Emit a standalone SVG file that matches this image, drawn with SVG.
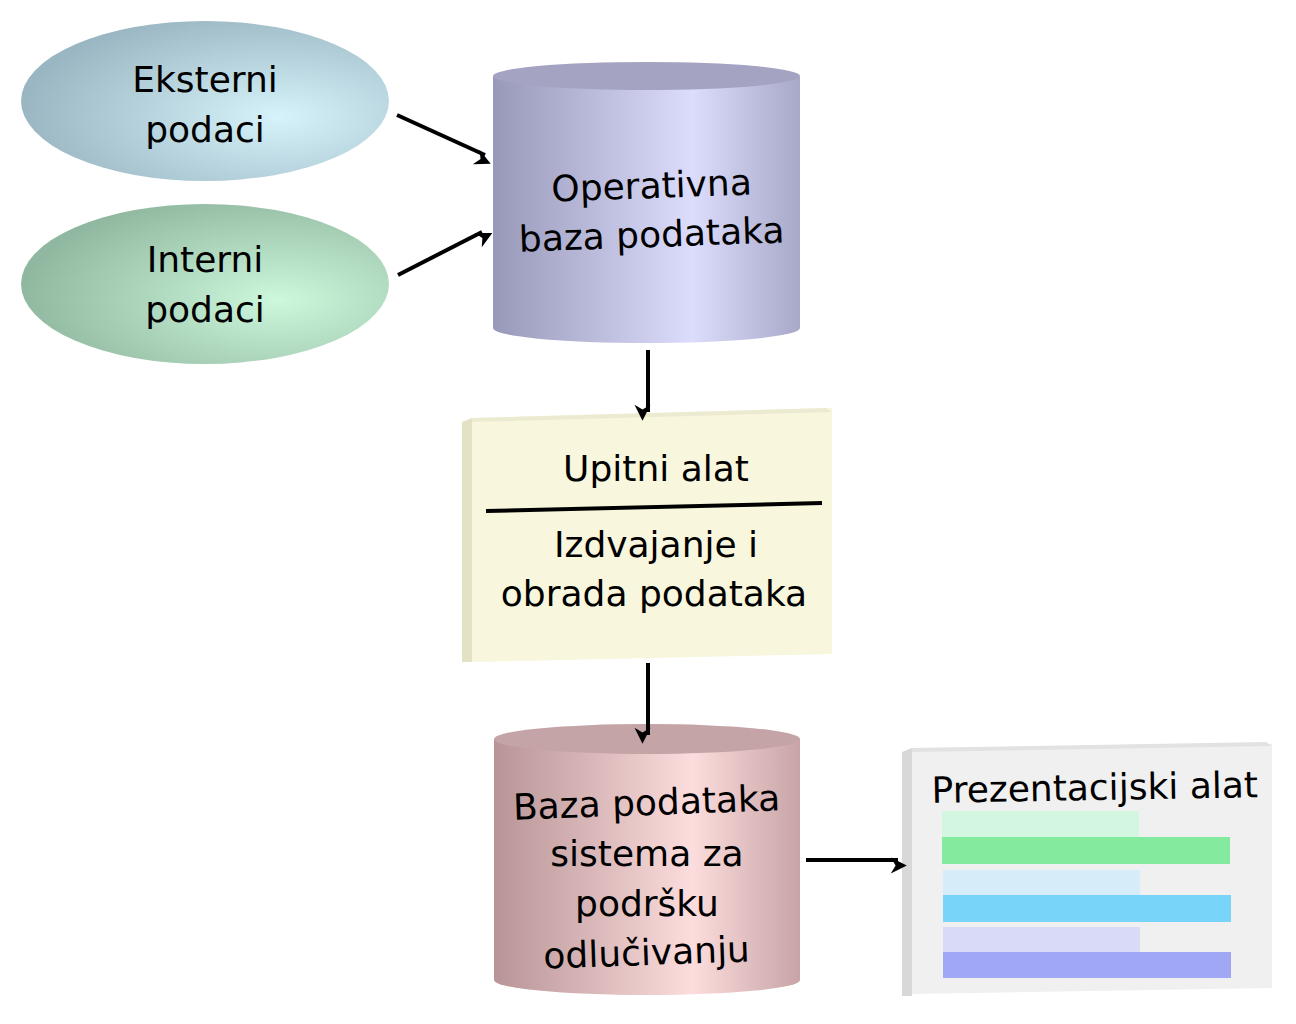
<svg xmlns="http://www.w3.org/2000/svg" width="1296" height="1024" viewBox="0 0 1296 1024">
<style>
text{font-family:"DejaVu Sans","Verdana",sans-serif;font-size:36px;fill:#000;text-anchor:middle}
.c{stroke:#000;stroke-width:4;fill:none;marker-end:url(#ah)}
</style>
<defs>
<marker id="ah" viewBox="0 0 10 10" refX="8" refY="5" markerWidth="5" markerHeight="5" orient="auto" markerUnits="userSpaceOnUse" style="overflow:visible"><path d="M0,0L10,5L0,10L3,5z" fill="#000" transform="scale(3.2) translate(-2,-0)"/></marker>
<radialGradient id="gE" cx="0.7" cy="0.6" r="0.7"><stop offset="0" stop-color="#d6f2fa"/><stop offset="1" stop-color="#9ab6c2"/></radialGradient>
<radialGradient id="gI" cx="0.7" cy="0.6" r="0.7"><stop offset="0" stop-color="#cdf8dc"/><stop offset="1" stop-color="#90b8a0"/></radialGradient>
<linearGradient id="gO" x1="0" x2="1"><stop offset="0" stop-color="#9899b8"/><stop offset="0.65" stop-color="#dcdcfc"/><stop offset="1" stop-color="#a8a8c8"/></linearGradient>
<linearGradient id="gB" x1="0" x2="1"><stop offset="0" stop-color="#b89496"/><stop offset="0.65" stop-color="#fcdcdc"/><stop offset="1" stop-color="#c8a4a6"/></linearGradient>
</defs>
<g id="eksterni"><ellipse cx="205" cy="101" rx="184" ry="80" fill="url(#gE)"/><text x="205" y="92">Eksterni</text><text x="205" y="142">podaci</text></g>
<g id="interni"><ellipse cx="205" cy="284" rx="184" ry="80" fill="url(#gI)"/><text x="205" y="272">Interni</text><text x="205" y="322">podaci</text></g>
<g id="operativna"><path d="M493,76 L493,328 A153,15 0 0 0 800,328 L800,76 Z" fill="url(#gO)"/><ellipse cx="646.5" cy="76" rx="153.5" ry="14" fill="#a4a4c2"/><text x="652" y="198" transform="rotate(-2 652 198)">Operativna</text><text x="652" y="247" transform="rotate(-2 652 247)">baza podataka</text></g>
<g id="upitni"><polygon points="462,422 472,418 472,662 462,662" fill="#e4e2c4"/><polygon points="472,418 832,408 832,654 472,662" fill="#f8f6dc"/><polygon points="472,418 826,408 832,412 472,422" fill="#ecebd2"/><line x1="486" y1="511" x2="822" y2="503" stroke="#000" stroke-width="4"/><text x="656" y="481">Upitni alat</text><text x="656" y="557">Izdvajanje i</text><text x="654" y="606">obrada podataka</text></g>
<g id="baza"><path d="M494,739 L494,980 A153,15 0 0 0 800,980 L800,739 Z" fill="url(#gB)"/><ellipse cx="647" cy="739" rx="153" ry="15" fill="#c4a4a6"/><text x="647" y="815" transform="rotate(-2 647 815)">Baza podataka</text><text x="647" y="866">sistema za</text><text x="647" y="916">podršku</text><text x="647" y="965" transform="rotate(-2 647 965)">odlučivanju</text></g>
<g id="prezentacijski"><polygon points="902,752 912,748 912,996 902,996" fill="#d8d8d8"/><polygon points="912,748 1272,744 1272,988 912,994" fill="#f0f0f0"/><polygon points="912,748 1266,742 1272,746 912,752" fill="#e2e2e2"/><text x="1095" y="800" transform="rotate(-1 1095 800)">Prezentacijski alat</text>
<rect x="942" y="811" width="197" height="26" fill="#d2f6e0"/><rect x="942" y="837" width="288" height="27" fill="#84ea9e"/><rect x="943" y="870" width="197" height="25" fill="#d6ecf8"/><rect x="943" y="895" width="288" height="27" fill="#78d4f8"/><rect x="943" y="927" width="197" height="25" fill="#d8daf8"/><rect x="943" y="952" width="288" height="26" fill="#a0a8f6"/></g>
<g id="connectors"><line class="c" x1="397" y1="115" x2="485" y2="155"/><line class="c" x1="398" y1="275" x2="482" y2="232"/><line class="c" x1="648" y1="350" x2="648" y2="412"/><line class="c" x1="648" y1="663" x2="648" y2="735"/><line class="c" x1="806" y1="860" x2="898" y2="860"/></g>
</svg>
